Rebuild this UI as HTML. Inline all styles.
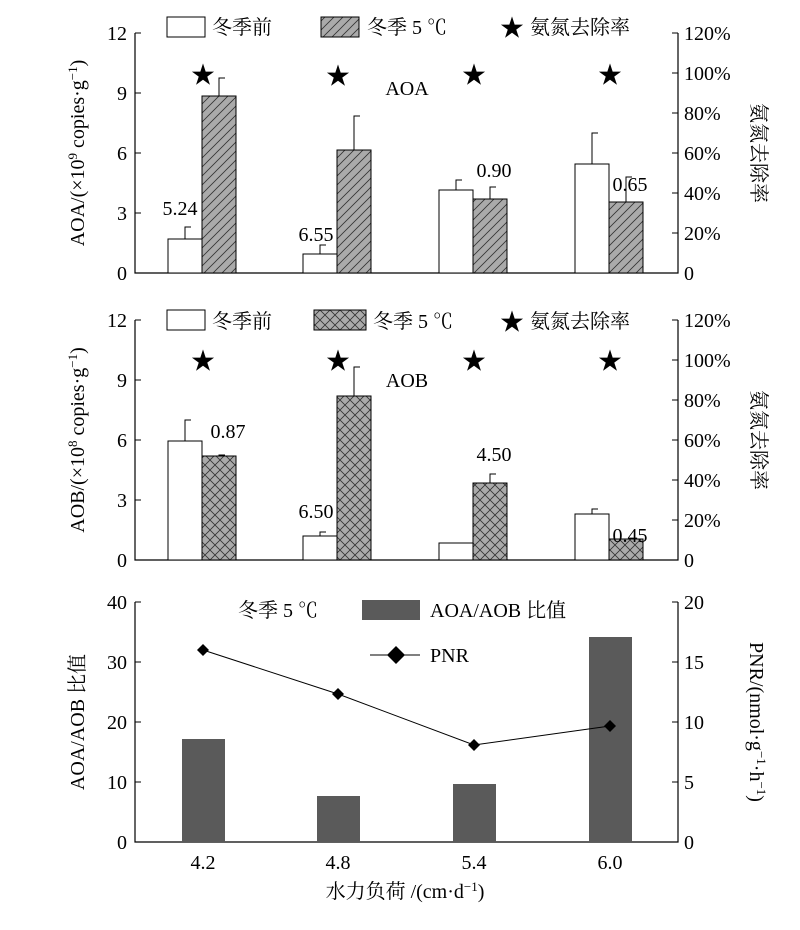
<!DOCTYPE html>
<html><head><meta charset="utf-8"><style>
body{margin:0;background:#fff}
svg text{font-family:"Liberation Serif","Noto Serif CJK SC",serif;fill:#000}
</style></head><body>
<svg width="800" height="925" viewBox="0 0 800 925" xmlns="http://www.w3.org/2000/svg">
<defs>
<pattern id="h" width="9" height="9" patternUnits="userSpaceOnUse"><rect width="9" height="9" fill="#aaa"/><path d="M0,9 L9,0 M-2,2 L2,-2 M7,11 L11,7" stroke="#333" stroke-width="0.8"/></pattern>
<pattern id="x" width="10" height="10" patternUnits="userSpaceOnUse"><rect width="10" height="10" fill="#aaa"/><path d="M0,10 L10,0 M0,0 L10,10" stroke="#333" stroke-width="0.8"/></pattern>
</defs>
<g stroke="#000" stroke-width="1.2" fill="none">
<path d="M135,33 V273 H678 V33"/>
<path d="M135,320 V560 H678 V320"/>
<path d="M135,602 V842 H678 V602"/>
</g>
<g stroke="#000" stroke-width="1">
<path d="M135,33h6M135,93h6M135,153h6M135,213h6"/>
<path d="M678,33h-6M678,73h-6M678,113h-6M678,153h-6M678,193h-6M678,233h-6"/>
<path d="M135,320h6M135,380h6M135,440h6M135,500h6"/>
<path d="M678,320h-6M678,360h-6M678,400h-6M678,440h-6M678,480h-6M678,520h-6"/>
<path d="M135,602h6M135,662h6M135,722h6M135,782h6"/>
<path d="M678,602h-6M678,662h-6M678,722h-6M678,782h-6"/>
<path d="M203,842v-6M338,842v-6M474,842v-6M610,842v-6"/>
</g>
<g font-size="20" text-anchor="end">
<text x="127" y="40">12</text><text x="127" y="100">9</text><text x="127" y="160">6</text><text x="127" y="220">3</text><text x="127" y="280">0</text>
<text x="127" y="327">12</text><text x="127" y="387">9</text><text x="127" y="447">6</text><text x="127" y="507">3</text><text x="127" y="567">0</text>
<text x="127" y="609">40</text><text x="127" y="669">30</text><text x="127" y="729">20</text><text x="127" y="789">10</text><text x="127" y="849">0</text>
</g>
<g font-size="20" text-anchor="start">
<text x="684" y="40">120%</text><text x="684" y="80">100%</text><text x="684" y="120">80%</text><text x="684" y="160">60%</text><text x="684" y="200">40%</text><text x="684" y="240">20%</text><text x="684" y="280">0</text>
<text x="684" y="327">120%</text><text x="684" y="367">100%</text><text x="684" y="407">80%</text><text x="684" y="447">60%</text><text x="684" y="487">40%</text><text x="684" y="527">20%</text><text x="684" y="567">0</text>
<text x="684" y="609">20</text><text x="684" y="669">15</text><text x="684" y="729">10</text><text x="684" y="789">5</text><text x="684" y="849">0</text>
</g>
<g font-size="20" text-anchor="middle">
<text x="203" y="869">4.2</text><text x="338" y="869">4.8</text><text x="474" y="869">5.4</text><text x="610" y="869">6.0</text>
<text x="405" y="898">水力负荷 /(cm·d<tspan baseline-shift="super" font-size="13">−1</tspan>)</text>
</g>
<g font-size="20" text-anchor="middle">
<text transform="translate(84,153) rotate(-90)">AOA/(×10<tspan baseline-shift="super" font-size="13">9</tspan> copies·g<tspan baseline-shift="super" font-size="13">−1</tspan>)</text>
<text transform="translate(84,440) rotate(-90)">AOB/(×10<tspan baseline-shift="super" font-size="13">8</tspan> copies·g<tspan baseline-shift="super" font-size="13">−1</tspan>)</text>
<text transform="translate(84,722) rotate(-90)">AOA/AOB 比值</text>
<text transform="translate(752,153) rotate(90)">氨氮去除率</text>
<text transform="translate(752,440) rotate(90)">氨氮去除率</text>
<text transform="translate(750,722) rotate(90)">PNR/(nmol·g<tspan baseline-shift="super" font-size="13">−1</tspan>·h<tspan baseline-shift="super" font-size="13">−1</tspan>)</text>
</g>
<g stroke="#000" stroke-width="1">
<rect x="168" y="239" width="34" height="34" fill="#fff"/><rect x="202" y="96" width="34" height="177" fill="url(#h)"/>
<rect x="303" y="254" width="34" height="19" fill="#fff"/><rect x="337" y="150" width="34" height="123" fill="url(#h)"/>
<rect x="439" y="190" width="34" height="83" fill="#fff"/><rect x="473" y="199" width="34" height="74" fill="url(#h)"/>
<rect x="575" y="164" width="34" height="109" fill="#fff"/><rect x="609" y="202" width="34" height="71" fill="url(#h)"/>
<path d="M185,239V227h6M219,96V78h6M320,254V245h6M354,150V116h6M456,190V180h6M490,199V187h6M592,164V133h6M626,202V177h6" fill="none"/>
</g>
<g font-size="20" text-anchor="middle">
<text x="180" y="215">5.24</text><text x="316" y="241">6.55</text><text x="494" y="177">0.90</text><text x="630" y="191">0.65</text>
<text x="407" y="95">AOA</text>
</g>
<g font-size="24" text-anchor="middle"><text x="203" y="83">★</text><text x="338" y="84">★</text><text x="474" y="83">★</text><text x="610" y="83">★</text></g>
<rect x="167" y="17" width="38" height="20" fill="#fff" stroke="#000"/>
<rect x="321" y="17" width="38" height="20" fill="url(#h)" stroke="#000"/>
<g font-size="20"><text x="212" y="34">冬季前</text><text x="367" y="34">冬季 5 ℃</text><text x="500" y="36" font-size="24">★</text><text x="530" y="34">氨氮去除率</text></g>
<g stroke="#000" stroke-width="1">
<rect x="168" y="441" width="34" height="119" fill="#fff"/><rect x="202" y="456" width="34" height="104" fill="url(#x)"/>
<rect x="303" y="536" width="34" height="24" fill="#fff"/><rect x="337" y="396" width="34" height="164" fill="url(#x)"/>
<rect x="439" y="543" width="34" height="17" fill="#fff"/><rect x="473" y="483" width="34" height="77" fill="url(#x)"/>
<rect x="575" y="514" width="34" height="46" fill="#fff"/><rect x="609" y="539" width="34" height="21" fill="url(#x)"/>
<path d="M185,441V420h6M219,456V455h6M320,536V532h6M354,396V367h6M490,483V474h6M592,514V509h6" fill="none"/>
</g>
<g font-size="20" text-anchor="middle">
<text x="228" y="438">0.87</text><text x="316" y="518">6.50</text><text x="494" y="461">4.50</text><text x="630" y="542">0.45</text>
<text x="407" y="387">AOB</text>
</g>
<g font-size="24" text-anchor="middle"><text x="203" y="369">★</text><text x="338" y="369">★</text><text x="474" y="369">★</text><text x="610" y="369">★</text></g>
<rect x="167" y="310" width="38" height="20" fill="#fff" stroke="#000"/>
<rect x="314" y="310" width="52" height="20" fill="url(#x)" stroke="#000"/>
<g font-size="20"><text x="212" y="328">冬季前</text><text x="373" y="328">冬季 5 ℃</text><text x="500" y="330" font-size="24">★</text><text x="530" y="328">氨氮去除率</text></g>
<g fill="#5a5a5a">
<rect x="182" y="739" width="43" height="103"/><rect x="317" y="796" width="43" height="46"/>
<rect x="453" y="784" width="43" height="58"/><rect x="589" y="637" width="43" height="205"/>
<rect x="362" y="600" width="58" height="20"/>
</g>
<polyline points="203,650 338,694 474,745 610,726" fill="none" stroke="#000" stroke-width="1"/>
<path d="M370,655H420" stroke="#000"/>
<g fill="#000">
<path d="M203,644l6,6l-6,6l-6,-6z"/><path d="M338,688l6,6l-6,6l-6,-6z"/><path d="M474,739l6,6l-6,6l-6,-6z"/><path d="M610,720l6,6l-6,6l-6,-6z"/>
<path d="M396,646l9,9l-9,9l-9,-9z"/>
</g>
<g font-size="20"><text x="238" y="617">冬季 5 ℃</text><text x="430" y="617">AOA/AOB 比值</text><text x="430" y="662">PNR</text></g>
</svg>
</body></html>
